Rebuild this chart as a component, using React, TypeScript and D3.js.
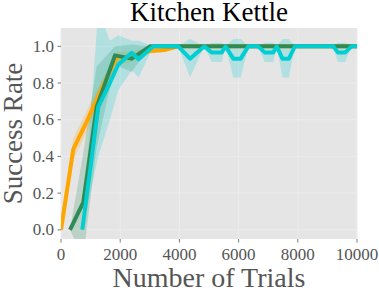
import React from 'react';
import * as d3 from 'd3';

// trials / success rate
const orangeX = [0, 416, 870, 1260, 1880, 2300, 2620, 3010, 3500, 3950, 10000];
const orangeY = [0.0, 0.44, 0.59, 0.73, 0.94, 0.94, 0.955, 0.975, 0.98, 1.0, 1.0];
const orangeLo = [-0.01, 0.38, 0.53, 0.68, 0.9, 0.91, 0.93, 0.96, 0.97, 1.0, 1.0];
const orangeHi = [0.01, 0.5, 0.65, 0.78, 0.97, 0.97, 0.98, 0.99, 0.99, 1.0, 1.0];

const greenX = [304, 753, 1206, 1824, 2388, 3007, 10000];
const greenY = [0.0, 0.15, 0.67, 0.951, 0.933, 1.0, 1.0];
const greenLo = [0.0, -0.15, 0.45, 0.9, 0.86, 1.0, 1.0];
const greenHi = [0.0, 0.42, 0.89, 1.0, 1.01, 1.0, 1.0];

const cyanX = [720, 1260, 1650, 1930, 2390, 2620, 3120, 3960, 4360, 4840, 5090, 5430, 5560, 5820, 6070, 6330, 6660, 6880, 7170, 7290, 7480, 7700, 7900, 9200, 9350, 9600, 9820, 10000];
const cyanY = [0.0, 0.67, 0.8, 0.9, 0.965, 0.93, 1, 1, 0.933, 1, 0.967, 0.967, 1, 0.933, 0.933, 1, 1, 0.967, 0.967, 1, 0.933, 0.933, 1, 1, 0.967, 0.967, 1, 1];
const cyanLo = [0.0, 0.4, 0.6, 0.76, 0.87, 0.83, 1, 1, 0.83, 1, 0.915, 0.915, 1, 0.83, 0.83, 1, 1, 0.915, 0.915, 1, 0.83, 0.83, 1, 1, 0.915, 0.915, 1, 1];
const cyanHi = [0.0, 1.2, 1.03, 1.06, 1.03, 1.03, 1, 1, 1.04, 1, 1.02, 1.02, 1, 1.04, 1.04, 1, 1, 1.02, 1.02, 1, 1.04, 1.04, 1, 1, 1.02, 1.02, 1, 1];

const xTicks = [0, 2000, 4000, 6000, 8000, 10000];
const yTicks = [0.0, 0.2, 0.4, 0.6, 0.8, 1.0];

const series = [
  { name: 'orange', color: '#ffa500', xs: orangeX, ys: orangeY, lo: orangeLo, hi: orangeHi },
  { name: 'green', color: '#2e8b57', xs: greenX, ys: greenY, lo: greenLo, hi: greenHi },
  { name: 'cyan', color: '#00ced1', xs: cyanX, ys: cyanY, lo: cyanLo, hi: cyanHi },
];

const W = 379, H = 294;
const left = 61, right = 357, top = 28, bottom = 239;
const font = '"Liberation Serif", "DejaVu Serif", serif';

export default function App() {
  const x = d3.scaleLinear().domain([0, 10000]).range([left, right]);
  const y = d3.scaleLinear().domain([-0.05, 1.1]).range([bottom, top]);

  const line = d3.line<[number, number]>().x(d => x(d[0])).y(d => y(d[1]));
  const area = d3.area<[number, number, number]>()
    .x(d => x(d[0])).y0(d => y(d[1])).y1(d => y(d[2]));

  return (
    <svg width={W} height={H} style={{ position: 'absolute', left: 0, top: 0 }}>
      <defs>
        <clipPath id="plot">
          <rect x={left} y={top} width={right - left} height={bottom - top} />
        </clipPath>
      </defs>
      <rect x={left} y={top} width={right - left} height={bottom - top} fill="#e5e5e5" />
      {xTicks.map(t => (
        <line key={'gx' + t} x1={x(t)} x2={x(t)} y1={top} y2={bottom} stroke="#ececec" strokeWidth={1} />
      ))}
      {yTicks.map(t => (
        <line key={'gy' + t} x1={left} x2={right} y1={y(t)} y2={y(t)} stroke="#ececec" strokeWidth={1} />
      ))}
      <g clipPath="url(#plot)">
        {series.map(s => (
          <path key={'a' + s.name}
            d={area(s.xs.map((v, i) => [v, s.lo[i], s.hi[i]] as [number, number, number])) || ''}
            fill={s.color} fillOpacity={0.22} />
        ))}
        {series.map(s => (
          <path key={'l' + s.name}
            d={line(s.xs.map((v, i) => [v, s.ys[i]] as [number, number])) || ''}
            fill="none" stroke={s.color} strokeWidth={4} strokeLinejoin="round" />
        ))}
      </g>
      {xTicks.map(t => (
        <g key={'tx' + t}>
          <line x1={x(t)} x2={x(t)} y1={bottom} y2={bottom + 3.5} stroke="#555" strokeWidth={0.8} />
          <text x={x(t)} y={260} textAnchor="middle" fontFamily={font} fontSize={17} fill="#555">{t}</text>
        </g>
      ))}
      {yTicks.map(t => (
        <g key={'ty' + t}>
          <line x1={left - 3.5} x2={left} y1={y(t)} y2={y(t)} stroke="#555" strokeWidth={0.8} />
          <text x={54} y={y(t)} dy="0.33em" textAnchor="end" fontFamily={font} fontSize={17} fill="#555">{t.toFixed(1)}</text>
        </g>
      ))}
      <text x={(left + right) / 2} y={21} textAnchor="middle" fontFamily={font} fontSize={27} fill="#000">Kitchen Kettle</text>
      <text x={(left + right) / 2} y={287} textAnchor="middle" fontFamily={font} fontSize={28} fill="#555">Number of Trials</text>
      <text transform={`translate(22,${(top + bottom) / 2}) rotate(-90)`} textAnchor="middle" fontFamily={font} fontSize={27} fill="#555">Success Rate</text>
    </svg>
  );
}
